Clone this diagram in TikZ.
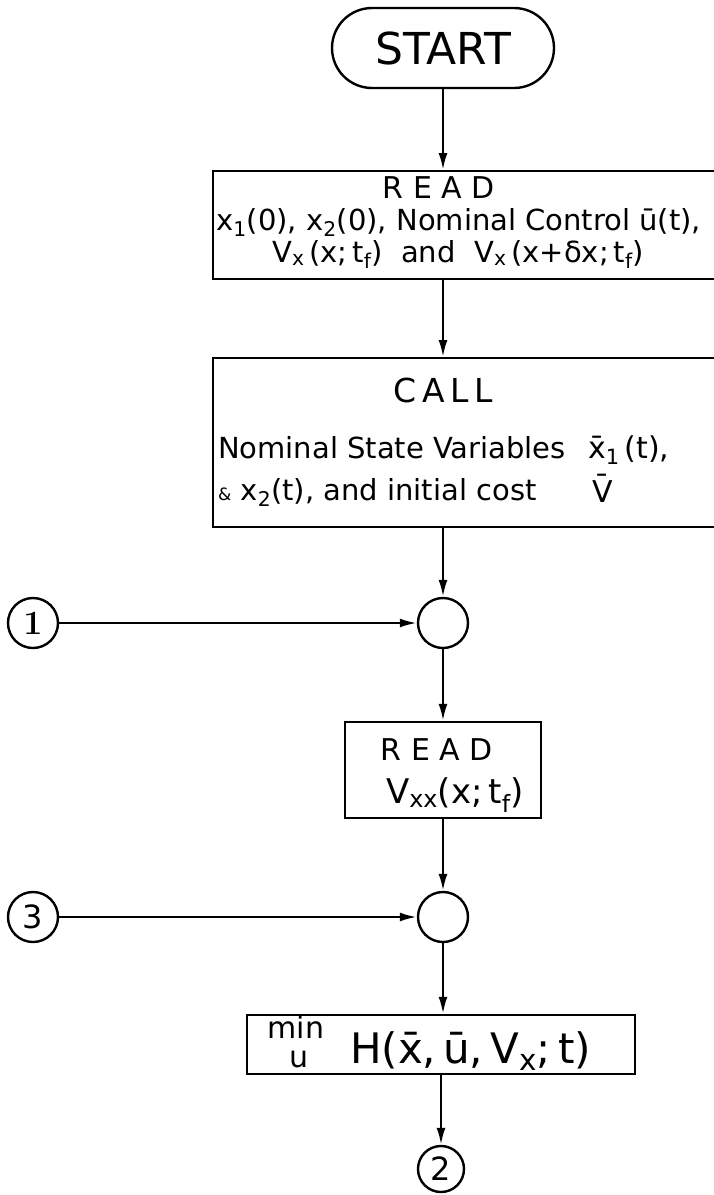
\documentclass[tikz,border=0pt]{standalone}
\usepackage{fontspec}
\setsansfont{DejaVu Sans}
\renewcommand{\familydefault}{\sfdefault}
\usetikzlibrary{arrows.meta,shapes.misc}
\begin{document}
\begin{tikzpicture}[x=1pt,y=-1pt,
  lw/.style={line width=2.4pt},
  box/.style={draw,lw,rectangle,inner sep=0pt},
  conn/.style={lw,-{Latex[length=17pt,width=9pt]}},
  circ/.style={draw,lw,circle,inner sep=0pt,minimum size=50pt},
  txt/.style={inner sep=0pt},
  f30/.style={font=\fontsize{30}{30}\selectfont},
  f29/.style={font=\fontsize{29}{29}\selectfont},
]
\useasboundingbox (0,0) rectangle (714,1195);

% START
\node[draw,lw,rounded rectangle,minimum width=222pt,minimum height=80pt,inner sep=0pt,
      font=\fontsize{44}{44}\selectfont] (start) at (443,48) {START};

% READ box 1
\node[box,anchor=north west,minimum width=540pt,minimum height=108pt] (read1) at (212,170) {};
\node[txt,f30,anchor=base] (read1a) at (439,198) {R E A D};
\node[txt,f29,anchor=base west] (read1b) at (216,230)
  {x\textsubscript{1}(0), x\textsubscript{2}(0), Nominal Control \={u}(t),};
\node[txt,f29,anchor=base west] (read1c) at (272,262)
  {V\textsubscript{x}\,(x;\,t\textsubscript{f}) \ and \ V\textsubscript{x}\,(x+δx;\,t\textsubscript{f})};

% CALL box
\node[box,anchor=north west,minimum width=540pt,minimum height=169pt] (call) at (212,357) {};
\node[txt,font=\fontsize{33}{33}\selectfont,anchor=base] (calla) at (443,402) {C\,A\,L\,L};
\node[txt,f29,anchor=base west] (callb) at (218,458) {Nominal State Variables};
\node[txt,f30,anchor=base west] (callc) at (588,458) {\={x}\textsubscript{1}\,(t),};
\node[txt,f29,anchor=base west] (calld) at (218,500)
  {{\fontsize{17}{17}\selectfont\&} x\textsubscript{2}(t), and initial cost};
\node[txt,f30,anchor=base west] (calle) at (592,502) {\={V}};

% junction 1 and connector 1
\node[circ] (j1) at (443,623) {};
\node[circ,font=\rmfamily\bfseries\fontsize{34}{34}\selectfont] (c1) at (33,623) {1};

% READ box 2
\node[box,minimum width=196pt,minimum height=96pt] (read2) at (443,770) {};
\node[txt,f30,anchor=base] (read2a) at (437,760) {R E A D};
\node[txt,font=\fontsize{34}{34}\selectfont,anchor=base] (read2b) at (455,803)
  {V\textsubscript{xx}(x;\,t\textsubscript{f})};

% junction 2 and connector 3
\node[circ] (j2) at (443,917) {};
\node[circ,font=\fontsize{32}{32}\selectfont] (c3) at (33,917) {3};

% min H box
\node[box,minimum width=388pt,minimum height=59pt] (minh) at (441,1044.5) {};
\node[txt,font=\fontsize{30}{30}\selectfont,anchor=base] (mina) at (296,1038) {min};
\node[txt,font=\fontsize{30}{30}\selectfont,anchor=base] (minb) at (299,1067) {u};
\node[txt,font=\fontsize{42}{42}\selectfont,anchor=base west] (minc) at (350,1063)
  {H(\={x},\,\={u},\,V\textsubscript{x};\,t)};

% connector 2
\node[circ,minimum size=46pt,font=\fontsize{32}{32}\selectfont] (c2) at (441,1169) {2};

% connectors
\draw[conn] (start) -- (start |- read1.north);
\draw[conn] (read1.south -| start) -- (call.north -| start);
\draw[conn] (call.south -| j1) -- (j1);
\draw[conn] (c1) -- (j1);
\draw[conn] (j1) -- (read2);
\draw[conn] (read2) -- (j2);
\draw[conn] (c3) -- (j2);
\draw[conn] (j2) -- (j2 |- minh.north);
\draw[conn] (minh.south -| c2) -- (c2);
\end{tikzpicture}
\end{document}
